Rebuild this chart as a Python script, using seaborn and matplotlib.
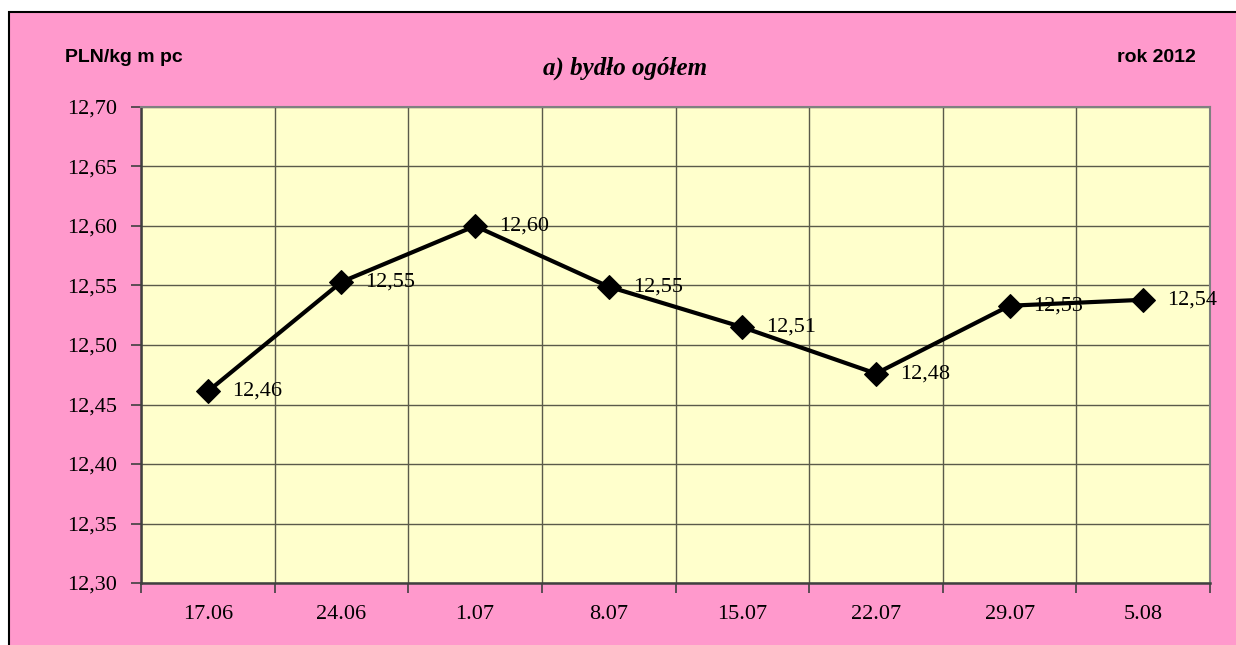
import matplotlib
matplotlib.use("Agg")
import matplotlib.pyplot as plt
from matplotlib.patches import Rectangle
from matplotlib.ticker import FixedLocator, FuncFormatter
import seaborn as sns
import pandas as pd

# data
dates = ["17.06", "24.06", "1.07", "8.07", "15.07", "22.07", "29.07", "5.08"]
prices = [12.461, 12.553, 12.600, 12.549, 12.515, 12.476, 12.533, 12.538]
labels = ["12,46", "12,55", "12,60", "12,55", "12,51", "12,48", "12,53", "12,54"]
yticks = [12.30, 12.35, 12.40, 12.45, 12.50, 12.55, 12.60, 12.65, 12.70]

df = pd.DataFrame({"x": range(len(dates)), "cena": prices})

sns.set_style("white")
plt.rcParams["font.family"] = ["Liberation Serif", "DejaVu Serif"]
plt.rcParams["text.color"] = "black"
plt.rcParams["xtick.color"] = "black"
plt.rcParams["ytick.color"] = "black"

PINK = "#FF99CC"
CREAM = "#FFFFCC"

fig = plt.figure(figsize=(12.36, 6.45), dpi=100, facecolor="white")
# pink chart area with black frame (open on right/bottom like the original)
bg = Rectangle((9 / 1236, -0.05), 1.1, (645 - 12) / 645 + 0.05,
               transform=fig.transFigure, facecolor=PINK,
               edgecolor="black", linewidth=1.5, zorder=-10)
fig.patches.append(bg)

ax = fig.add_axes([141 / 1236, 1 - 583 / 645, (1210 - 141) / 1236, (583 - 107) / 645])
ax.set_facecolor(CREAM)

sns.lineplot(data=df, x="x", y="cena", ax=ax, color="black", linewidth=3,
             marker="D", markersize=12, markeredgecolor="black",
             markerfacecolor="black", zorder=5)

for i, (v, lab) in enumerate(zip(prices, labels)):
    ax.annotate(lab, (i, v), xytext=(24, 0), textcoords="offset pixels",
                ha="left", va="center", fontsize=16, color="black", zorder=6,
                annotation_clip=False)

ax.set_xlim(-0.5, len(dates) - 0.5)
ax.set_ylim(12.30, 12.70)
ax.set_yticks(yticks)
ax.yaxis.set_major_formatter(FuncFormatter(lambda v, p: f"{v:.2f}".replace(".", ",")))

# boundaries as major ticks (grid), category labels on minor ticks
ax.xaxis.set_major_locator(FixedLocator([i - 0.5 for i in range(len(dates) + 1)]))
ax.xaxis.set_minor_locator(FixedLocator(list(range(len(dates)))))
ax.set_xticklabels([""] * (len(dates) + 1))
ax.set_xticklabels(dates, minor=True)
ax.tick_params(axis="x", which="minor", length=0, pad=16, labelsize=16)
ax.tick_params(axis="x", which="major", length=7, width=1.2, color="#404040",
               direction="out", bottom=True)
ax.tick_params(axis="y", length=7, width=1.2, color="#404040", direction="out",
               left=True, pad=10, labelsize=16)

ax.grid(True, which="major", color="#5a5a4a", linewidth=1.0)
ax.set_axisbelow(True)
ax.set_xlabel("")
ax.set_ylabel("")

for side in ["top", "right"]:
    ax.spines[side].set_color("#808080")
    ax.spines[side].set_linewidth(1.5)
for side in ["left", "bottom"]:
    ax.spines[side].set_color("#404040")
    ax.spines[side].set_linewidth(1.8)

fig.text(65 / 1236, 1 - 57 / 645, "PLN/kg m pc", family=["Liberation Sans", "DejaVu Sans"],
         fontweight="bold", fontsize=14, ha="left", va="center")
fig.text(1196 / 1236, 1 - 57 / 645, "rok 2012", family=["Liberation Sans", "DejaVu Sans"],
         fontweight="bold", fontsize=14, ha="right", va="center")
fig.text(625 / 1236, 1 - 68 / 645, "a) bydło ogółem", fontweight="bold",
         fontstyle="italic", fontsize=18, ha="center", va="center")

fig.savefig("out.png", dpi=100, facecolor=fig.get_facecolor())
